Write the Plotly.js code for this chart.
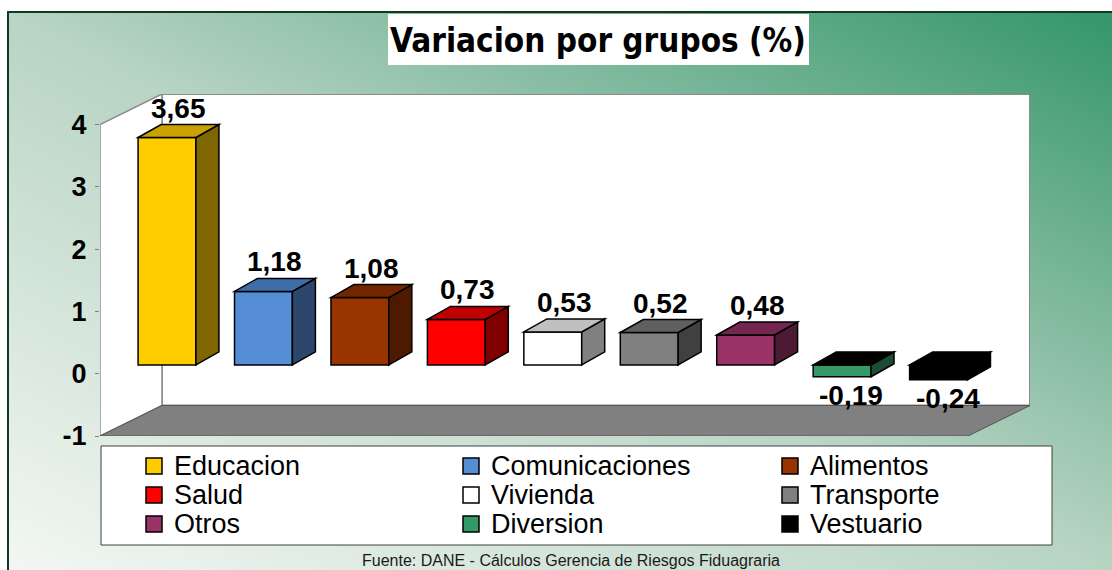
<!DOCTYPE html>
<html>
<head>
<meta charset="utf-8">
<script src="https://cdn.plot.ly/plotly-3.0.1.min.js"></script>
<style>
  html, body { margin: 0; padding: 0; background: #ffffff; }
  #wrap { position: relative; width: 1112px; height: 570px; overflow: hidden; background: #ffffff; }
  #bg { position: absolute; left: 7px; top: 11px; width: 1105px; height: 559px;
        border-top: 2px solid #123a22; border-left: 2px solid #123a22; box-sizing: border-box;
        background: linear-gradient(to top right, #f3f7f4 0%, #b8d4c3 50%, #34966a 100%); }
  #chart { position: absolute; left: 0; top: 0; width: 1112px; height: 570px; }
</style>
</head>
<body>
<div id="wrap"><div id="bg"></div><div id="chart"></div></div>
<script>
// ---- data ----
const categories = ['Educacion', 'Comunicaciones', 'Alimentos', 'Salud', 'Vivienda', 'Transporte', 'Otros', 'Diversion', 'Vestuario'];
const values = [3.65, 1.18, 1.08, 0.73, 0.53, 0.52, 0.48, -0.19, -0.24];
const yTickVals = [-1, 0, 1, 2, 3, 4];
const yTickText = ['-1', '0', '1', '2', '3', '4'];
const titleText = 'Variacion por grupos (%)';
const sourceText = 'Fuente: DANE - Cálculos Gerencia de Riesgos Fiduagraria';

// ---- styles ----
const frontColors = ['#FFCC00', '#558ED5', '#993300', '#FF0000', '#FFFFFF', '#808080', '#993366', '#339966', '#000000'];
const topColors   = ['#C9A100', '#3F6DA8', '#732600', '#C00000', '#C0C0C0', '#606060', '#732650', '#000000', '#000000'];
const sideColors  = ['#806600', '#2C476B', '#4D1A00', '#800000', '#808080', '#404040', '#4D1A33', '#1A4D33', '#000000'];

// ---- geometry ----
const W = 1112, H = 570, L = 100, R = 82, T = 94, B = 134;
const PW = W - L - R, PH = H - T - B;
const XPX = 96.44, YPX = 62.3;           // pixels per unit
const xRange = [-0.5, -0.5 + PW / XPX];
const yRange = [-1, -1 + PH / YPX];
const Dx = 62 / XPX, Dy = 30.5 / YPX;    // wall depth
const dx0 = 18.8 / XPX, dy0 = 8.8 / YPX; // bar plane offset
const ddx = 23 / XPX, ddy = 13 / YPX;    // bar depth
const barW = 0.6;
const nCat = categories.length;
const xFirst = -0.5, xLast = nCat - 0.5;

const px = x => (x - L) / PW;
const py = y => (H - B - y) / PH;
const path = pts => 'M ' + pts.map(p => p[0] + ',' + p[1]).join(' L ') + ' Z';

const idx = categories.map((c, i) => i);

const shapes = [];
// walls
shapes.push({type: 'rect', xref: 'x', yref: 'y', layer: 'below',
  x0: xFirst + Dx, x1: xLast + Dx, y0: yRange[0] + Dy, y1: yRange[1],
  fillcolor: '#FFFFFF', line: {color: '#8C8C8C', width: 2}});
shapes.push({type: 'path', xref: 'x', yref: 'y', layer: 'below',
  path: path([[xFirst, yTickVals[0]], [xFirst, yTickVals[yTickVals.length - 1]],
              [xFirst + Dx, yTickVals[yTickVals.length - 1] + Dy], [xFirst + Dx, yTickVals[0] + Dy]]),
  fillcolor: '#FFFFFF', line: {color: '#8C8C8C', width: 1.5}});
shapes.push({type: 'path', xref: 'x', yref: 'y', layer: 'below',
  path: path([[xFirst, yRange[0]], [xLast, yRange[0]], [xLast + Dx, yRange[0] + Dy], [xFirst + Dx, yRange[0] + Dy]]),
  fillcolor: '#808080', line: {color: '#555555', width: 1}});

// 3D faces of bars
values.forEach((v, i) => {
  const lo = Math.min(0, v), hi = Math.max(0, v);
  const xl = idx[i] - barW / 2, xr = idx[i] + barW / 2;
  shapes.push({type: 'path', xref: 'x2', yref: 'y2', layer: 'above',
    path: path([[xr, lo], [xr + ddx, lo + ddy], [xr + ddx, hi + ddy], [xr, hi]]),
    fillcolor: sideColors[i], line: {color: '#000000', width: 1.5}});
  shapes.push({type: 'path', xref: 'x2', yref: 'y2', layer: 'above',
    path: path([[xl, hi], [xl + ddx, hi + ddy], [xr + ddx, hi + ddy], [xr, hi]]),
    fillcolor: topColors[i], line: {color: '#000000', width: 1.5}});
});

// title box
shapes.push({type: 'rect', xref: 'paper', yref: 'paper', layer: 'below',
  x0: px(388), x1: px(809), y0: py(65), y1: py(14), fillcolor: '#FFFFFF', line: {width: 0}});
// legend box
shapes.push({type: 'rect', xref: 'paper', yref: 'paper', layer: 'below',
  x0: px(101), x1: px(1052), y0: py(545), y1: py(446), fillcolor: '#FFFFFF', line: {color: '#404040', width: 1}});

const annotations = [];
// value labels
values.forEach((v, i) => {
  const txt = v.toFixed(2).replace('.', ',');
  if (v >= 0) {
    annotations.push({xref: 'x2', yref: 'y2', x: idx[i] + ddx / 2, y: v + ddy, text: txt, showarrow: false,
      xanchor: 'center', yanchor: 'bottom', yshift: -1,
      font: {family: 'Liberation Sans, Arial, sans-serif', size: 28, color: '#000000', weight: 'bold'}});
  } else {
    annotations.push({xref: 'x2', yref: 'y2', x: idx[i] + ddx * 0.4, y: v, text: txt, showarrow: false,
      xanchor: 'center', yanchor: 'top', yshift: -1,
      font: {family: 'Liberation Sans, Arial, sans-serif', size: 28, color: '#000000', weight: 'bold'}});
  }
});

// legend (3 columns x 3 rows)
const legColX = [146, 463, 782];
const legRowY = [466, 495, 524];
categories.forEach((c, i) => {
  const col = i % 3, row = Math.floor(i / 3);
  const sx = legColX[col], sy = legRowY[row];
  shapes.push({type: 'rect', xref: 'paper', yref: 'paper', layer: 'above',
    x0: px(sx), x1: px(sx + 16), y0: py(sy + 8), y1: py(sy - 8),
    fillcolor: frontColors[i], line: {color: '#000000', width: 1.5}});
  annotations.push({xref: 'paper', yref: 'paper', x: px(sx + 26), y: py(sy), text: c, showarrow: false,
    xanchor: 'left', yanchor: 'middle',
    font: {family: 'Liberation Sans, Arial, sans-serif', size: 27, color: '#000000'}});
});

// source
annotations.push({xref: 'paper', yref: 'paper', x: px(571), y: py(550), text: sourceText, showarrow: false,
  xanchor: 'center', yanchor: 'top',
  font: {family: 'Liberation Sans, Arial, sans-serif', size: 16, color: '#1a1a1a'}});

const trace = {
  type: 'bar', x: idx, y: values, xaxis: 'x2', yaxis: 'y2',
  width: barW,
  marker: {color: frontColors, line: {color: '#000000', width: 1.5}},
  hovertext: categories, hoverinfo: 'text+y'
};

const layout = {
  width: W, height: H,
  margin: {l: L, r: R, t: T, b: B, pad: 0},
  paper_bgcolor: 'rgba(0,0,0,0)', plot_bgcolor: 'rgba(0,0,0,0)',
  showlegend: false,
  title: {text: titleText, x: 598 / W, xref: 'container', y: 1 - 40 / H, yref: 'container',
    xanchor: 'center', yanchor: 'middle',
    font: {family: 'DejaVu Sans Condensed, DejaVu Sans, sans-serif', size: 33, color: '#000000', weight: 'bold'}},
  xaxis: {range: xRange, visible: false, fixedrange: true},
  yaxis: {range: yRange, tickvals: yTickVals, ticktext: yTickText, showgrid: false, zeroline: false,
    showline: false, ticks: 'outside', ticklen: 4, tickcolor: '#808080', tickwidth: 1, ticklabelstandoff: 3,
    tickfont: {family: 'Liberation Sans, Arial, sans-serif', size: 27, color: '#000000', weight: 'bold'}, fixedrange: true},
  xaxis2: {range: [xRange[0] - dx0, xRange[1] - dx0], overlaying: 'x', visible: false, fixedrange: true},
  yaxis2: {range: [yRange[0] - dy0, yRange[1] - dy0], overlaying: 'y', visible: false, fixedrange: true},
  shapes: shapes,
  annotations: annotations
};

Plotly.newPlot('chart', [trace], layout, {displayModeBar: false, staticPlot: true});
</script>
</body>
</html>
